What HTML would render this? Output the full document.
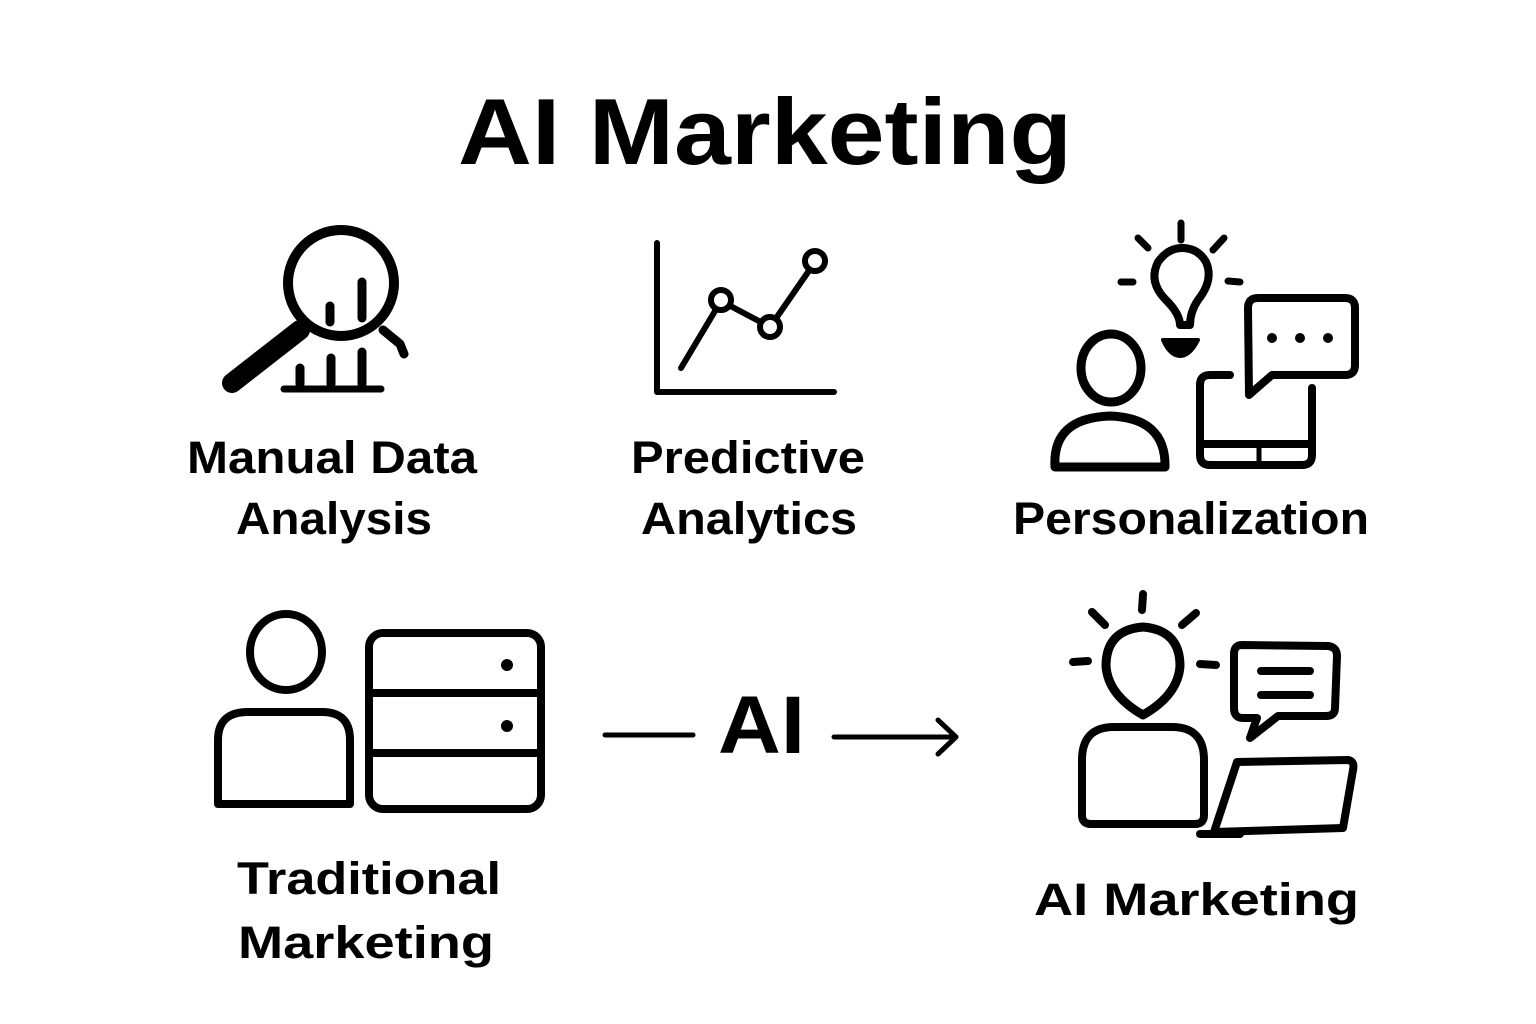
<!DOCTYPE html>
<html><head><meta charset="utf-8"><style>
html,body{margin:0;padding:0;background:#fff;}
svg{display:block;}
text{font-family:"Liberation Sans",sans-serif;fill:#000;}
</style></head><body>
<svg width="1536" height="1024" viewBox="0 0 1536 1024" xmlns="http://www.w3.org/2000/svg">
<rect width="1536" height="1024" fill="#fff"/>
<text x="458" y="164" font-size="94" font-weight="bold" textLength="614" lengthAdjust="spacingAndGlyphs">AI Marketing</text>

<g fill="none" stroke="#000" stroke-linecap="round" stroke-linejoin="round">
<!-- magnifier -->
<circle cx="341" cy="283" r="53" stroke-width="10"/>
<line x1="300" y1="330" x2="232" y2="383" stroke-width="20"/>
<path d="M383 330 L400 344 L404 354" stroke-width="9"/>
<line x1="330" y1="306" x2="330" y2="322" stroke-width="9"/>
<line x1="362" y1="282" x2="362" y2="318" stroke-width="9"/>
<line x1="300" y1="368" x2="300" y2="384" stroke-width="9"/>
<line x1="331" y1="358" x2="331" y2="384" stroke-width="9"/>
<line x1="362" y1="352" x2="362" y2="384" stroke-width="9"/>
<line x1="284" y1="389" x2="381" y2="389" stroke-width="7"/>

<!-- chart -->
<path d="M657 243 L657 392 L834 392" stroke-width="6"/>
<path d="M681 368 L721 301 L770 327 L815 262" stroke-width="6"/>
<circle cx="721" cy="300" r="10" stroke-width="6" fill="#fff"/>
<circle cx="770" cy="327" r="10" stroke-width="6" fill="#fff"/>
<circle cx="815" cy="261" r="10" stroke-width="6" fill="#fff"/>

<!-- personalization -->
<ellipse cx="1111" cy="368" rx="30" ry="34" stroke-width="9"/>
<path d="M1055 467 Q1052 418 1110 416 Q1166 418 1165 467 Z" stroke-width="9"/>
<path d="M1180 325 Q1180 314 1166 300 Q1148 282 1158 262 Q1168 248 1182 248 Q1198 248 1206 262 Q1214 280 1198 300 Q1190 312 1190 325 Z" stroke-width="8"/>
<path d="M1163 340 L1198 340 Q1190 356 1180 356 Q1170 356 1163 340 Z" fill="#000" stroke-width="4"/>
<line x1="1181" y1="223" x2="1181" y2="240" stroke-width="7"/>
<line x1="1138" y1="238" x2="1148" y2="248" stroke-width="7"/>
<line x1="1224" y1="238" x2="1213" y2="250" stroke-width="7"/>
<line x1="1121" y1="282" x2="1133" y2="282" stroke-width="7"/>
<line x1="1228" y1="281" x2="1240" y2="282" stroke-width="7"/>
<path d="M1230 375 L1210 375 Q1200 375 1200 385 L1200 455 Q1200 465 1210 465 L1302 465 Q1312 465 1312 455 L1312 388" stroke-width="8"/>
<line x1="1203" y1="444" x2="1310" y2="444" stroke-width="8"/>
<line x1="1259" y1="444" x2="1259" y2="462" stroke-width="5"/>
<path d="M1258 298 L1345 298 Q1355 298 1355 308 L1355 365 Q1355 375 1345 375 L1272 375 L1249 395 L1248 308 Q1248 298 1258 298 Z" stroke-width="8" fill="#fff"/>
<circle cx="1272" cy="338" r="4" fill="#000" stroke-width="2"/>
<circle cx="1300" cy="338" r="4" fill="#000" stroke-width="2"/>
<circle cx="1328" cy="338" r="4" fill="#000" stroke-width="2"/>

<!-- traditional -->
<ellipse cx="286" cy="652" rx="36" ry="38" stroke-width="8"/>
<path d="M218 804 L218 740 Q218 712 248 712 L322 712 Q350 712 350 740 L350 804 Z" stroke-width="8"/>
<rect x="369" y="633" width="172" height="176" rx="14" stroke-width="8"/>
<line x1="369" y1="693" x2="541" y2="693" stroke-width="8"/>
<line x1="369" y1="753" x2="541" y2="753" stroke-width="8"/>
<circle cx="507" cy="665" r="5" fill="#000" stroke-width="2"/>
<circle cx="507" cy="726" r="5" fill="#000" stroke-width="2"/>

<!-- arrow -->
<line x1="605" y1="735" x2="693" y2="735" stroke-width="5"/>
<line x1="834" y1="737" x2="955" y2="737" stroke-width="5"/>
<path d="M938 720 L956 737 L938 754" stroke-width="5"/>

<!-- AI marketing icon -->
<path d="M1143 715 Q1108 695 1106 666 Q1106 630 1143 627 Q1180 630 1180 666 Q1178 695 1143 715 Z" stroke-width="9"/>
<line x1="1143" y1="594" x2="1142" y2="610" stroke-width="8"/>
<line x1="1092" y1="612" x2="1105" y2="625" stroke-width="8"/>
<line x1="1196" y1="613" x2="1182" y2="625" stroke-width="8"/>
<line x1="1073" y1="662" x2="1088" y2="661" stroke-width="8"/>
<line x1="1200" y1="664" x2="1216" y2="665" stroke-width="8"/>
<path d="M1082 815 L1082 760 Q1082 727 1114 727 L1172 727 Q1204 727 1204 760 L1204 815 Q1204 824 1195 824 L1091 824 Q1082 824 1082 815 Z" stroke-width="8"/>
<path d="M1242 645 L1328 646 Q1337 647 1337 656 L1335 708 Q1335 716 1326 716 L1278 716 L1250 738 L1257 718 L1243 718 Q1234 718 1234 708 L1234 654 Q1234 645 1242 645 Z" stroke-width="8"/>
<line x1="1261" y1="671" x2="1310" y2="671" stroke-width="8"/>
<line x1="1261" y1="695" x2="1310" y2="695" stroke-width="8"/>
<path d="M1237 762 L1348 760 Q1355 761 1353 770 L1343 828 L1214 832 Z" stroke-width="8"/>
<line x1="1200" y1="834" x2="1240" y2="834" stroke-width="8"/>
</g>

<g font-size="45" font-weight="bold" lengthAdjust="spacingAndGlyphs">
<text x="187" y="473" textLength="290" lengthAdjust="spacingAndGlyphs">Manual Data</text>
<text x="236" y="534" textLength="196" lengthAdjust="spacingAndGlyphs">Analysis</text>
<text x="631" y="473" textLength="234" lengthAdjust="spacingAndGlyphs">Predictive</text>
<text x="641" y="534" textLength="216" lengthAdjust="spacingAndGlyphs">Analytics</text>
<text x="1013" y="534" textLength="356" lengthAdjust="spacingAndGlyphs">Personalization</text>
<text x="237" y="894" textLength="264" lengthAdjust="spacingAndGlyphs">Traditional</text>
<text x="238" y="958" textLength="256" lengthAdjust="spacingAndGlyphs">Marketing</text>
<text x="1034" y="915" textLength="325" lengthAdjust="spacingAndGlyphs">AI Marketing</text>
</g>
<text x="718" y="753" font-size="82" font-weight="bold" textLength="87" lengthAdjust="spacingAndGlyphs">AI</text>
</svg>
</body></html>
